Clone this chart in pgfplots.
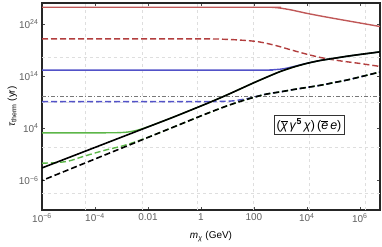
\documentclass[border=0pt]{standalone}
\usepackage{pgfplots}
\pgfplotsset{compat=1.18}
\usepackage{fontspec}
\setmainfont{Liberation Sans}
\definecolor{cred}{RGB}{192,88,88}
\definecolor{cred2}{RGB}{178,62,62}
\definecolor{cblue}{RGB}{82,82,200}
\definecolor{cgreen}{RGB}{92,182,72}
\definecolor{cgray}{RGB}{120,120,120}
\definecolor{tickgray}{RGB}{95,95,95}
\definecolor{gridgray}{RGB}{222,222,222}
\begin{document}
\begin{tikzpicture}
\begin{axis}[
  scale only axis, width=338bp, height=207bp,
  xmin=-6, xmax=6.76, ymin=-11.6, ymax=28,
  xtick={-6,-4,-2,0,2,4,6},
  xticklabels={10\textsuperscript{−6},10\textsuperscript{−4},0.01,1,100,10\textsuperscript{4},10\textsuperscript{6}},
  ytick={-6,4,14,24},
  yticklabels={10\textsuperscript{−6},10\textsuperscript{4},10\textsuperscript{14},10\textsuperscript{24}},
  tick label style={font=\fontsize{10}{12}\selectfont, text=tickgray},
  tick align=inside, major tick length=3bp, tick style={black!70, line width=0.5bp},
  axis line style={black!85, line width=1.2bp},
  extra x ticks={-4.38,-2.23,-0.15,1.96,4.08,6.19},
  extra y ticks={17.7,9.0,0.3,-8.5},
  extra x tick labels={}, extra y tick labels={},
  extra tick style={grid=major, major tick length=0pt, major grid style={gridgray, dashed, line width=0.6bp}},
  clip=true,
  xlabel={\textit{m}\textsubscript{\textit{χ}} (GeV)},
  ylabel={\textit{τ}\textsubscript{therm} (yr)},
  label style={font=\fontsize{10}{12}\selectfont, text=tickgray},
  every axis x label/.style={at={(axis description cs:0.5,-0.128)},anchor=center},
  every axis y label/.style={at={(axis description cs:-0.088,0.5)},rotate=90,anchor=center},
]
% red solid
\addplot[cred, line width=1.4bp, smooth] coordinates {(-6,27.19) (2.4,27.19) (2.75,27.15) (3.0,27.02) (3.4,26.68) (4.0,26.02) (4.64,25.40) (5.3,24.8) (5.92,24.25) (6.76,23.5)};
% red dashed
\addplot[cred2, line width=1.4bp, dash pattern=on 6bp off 3bp, smooth] coordinates {(-6,21.13) (0,21.13) (0.87,21.06) (1.5,20.9) (2.15,20.6) (2.8,19.9) (3.40,19.03) (4.0,18.2) (4.64,17.44) (5.3,16.9) (5.92,16.49) (6.76,15.86)};
% gray dash-dot
\addplot[cgray, line width=1.1bp, dash pattern=on 4bp off 2bp on 1.2bp off 2bp] coordinates {(-6,10.1) (6.76,10.1)};
% blue dashed
\addplot[cblue, line width=1.4bp, dash pattern=on 6bp off 3bp, smooth] coordinates {(-6,9.14) (0,9.14) (0.5,9.15) (1,9.21) (1.25,9.30) (1.5,9.49) (1.75,9.71) (2,10.01) (2.5,10.61) (3,11.0) (3.5,11.45) (4,11.85) (4.5,12.25) (5,12.75) (5.5,13.25) (6,13.85) (6.76,14.8)};
% green dashed
\addplot[cgreen, line width=1.4bp, dash pattern=on 6bp off 3bp, smooth] coordinates {(-6,-2.64) (-5.5,-2.55) (-5,-2.25) (-4.5,-1.45) (-4,-0.7) (-3.5,0.0) (-3,0.6) (-2.5,1.4) (-2,2.32) (-1.5,3.32) (-1,4.34) (-0.5,5.37) (0,6.4) (0.5,7.4) (1,8.35) (1.5,9.2) (2,9.95) (2.5,10.6) (3,11.0) (3.5,11.45) (4,11.85) (4.5,12.25) (5,12.75) (5.5,13.25) (6,13.85) (6.76,14.8)};
% black dashed
\addplot[black, line width=1.6bp, dash pattern=on 6bp off 3bp, dash phase=4.5bp, smooth] coordinates {(-6,-5.96) (-5,-3.9) (-4,-1.84) (-3,0.22) (-2,2.28) (-1,4.34) (-0.5,5.37) (0,6.4) (0.5,7.4) (1,8.35) (1.5,9.2) (2,9.95) (2.5,10.6) (3,11.0) (3.5,11.45) (4,11.85) (4.5,12.25) (5,12.75) (5.5,13.25) (6,13.85) (6.76,14.8)};
% blue solid
\addplot[cblue, line width=1.4bp, smooth] coordinates {(-6,15.15) (2,15.16) (2.5,15.17) (3,15.34) (3.25,15.55) (3.5,15.85) (4,16.47) (4.5,17.0) (5,17.4) (5.5,17.8) (6,18.15) (6.76,18.65)};
% green solid
\addplot[cgreen, line width=1.4bp, smooth] coordinates {(-6,3.16) (-3.5,3.17) (-3,3.22) (-2.75,3.32) (-2.5,3.55) (-2.25,3.89) (-2,4.32) (-1.5,5.27) (-1,6.25) (0,8.3) (0.5,9.35) (1,10.45) (1.5,11.6) (2,12.75) (2.5,13.85) (3,14.9) (3.5,15.75) (4,16.45) (4.5,17.0) (5,17.4) (5.5,17.8) (6,18.15) (6.76,18.65)};
% black solid
\addplot[black, line width=1.6bp, smooth] coordinates {(-6,-3.55) (-5,-1.59) (-4,0.37) (-3,2.33) (-2,4.29) (-1,6.25) (0,8.3) (0.5,9.35) (1,10.45) (1.5,11.6) (2,12.75) (2.5,13.85) (3,14.9) (3.5,15.75) (4,16.45) (4.5,17.0) (5,17.4) (5.5,17.8) (6,18.15) (6.76,18.65)};
\node[draw=black!80, line width=0.7bp, fill=white, inner xsep=2.5bp, inner ysep=3bp, font=\fontsize{12.5}{14}\selectfont] at (rel axis cs:0.79,0.41)
  {($\overline{\hbox{\itshape χ}}$\,\textit{γ}\textsuperscript{\textbf{5}}\,\textit{χ})\,($\overline{\hbox{\itshape e}}$\,\textit{e})};
\end{axis}
\path (current axis.south west) ++(-42bp,-37bp) coordinate (bl);
\path (current axis.north east) ++(2bp,3bp) coordinate (tr);
\useasboundingbox (bl) rectangle (tr);
\end{tikzpicture}
\end{document}
